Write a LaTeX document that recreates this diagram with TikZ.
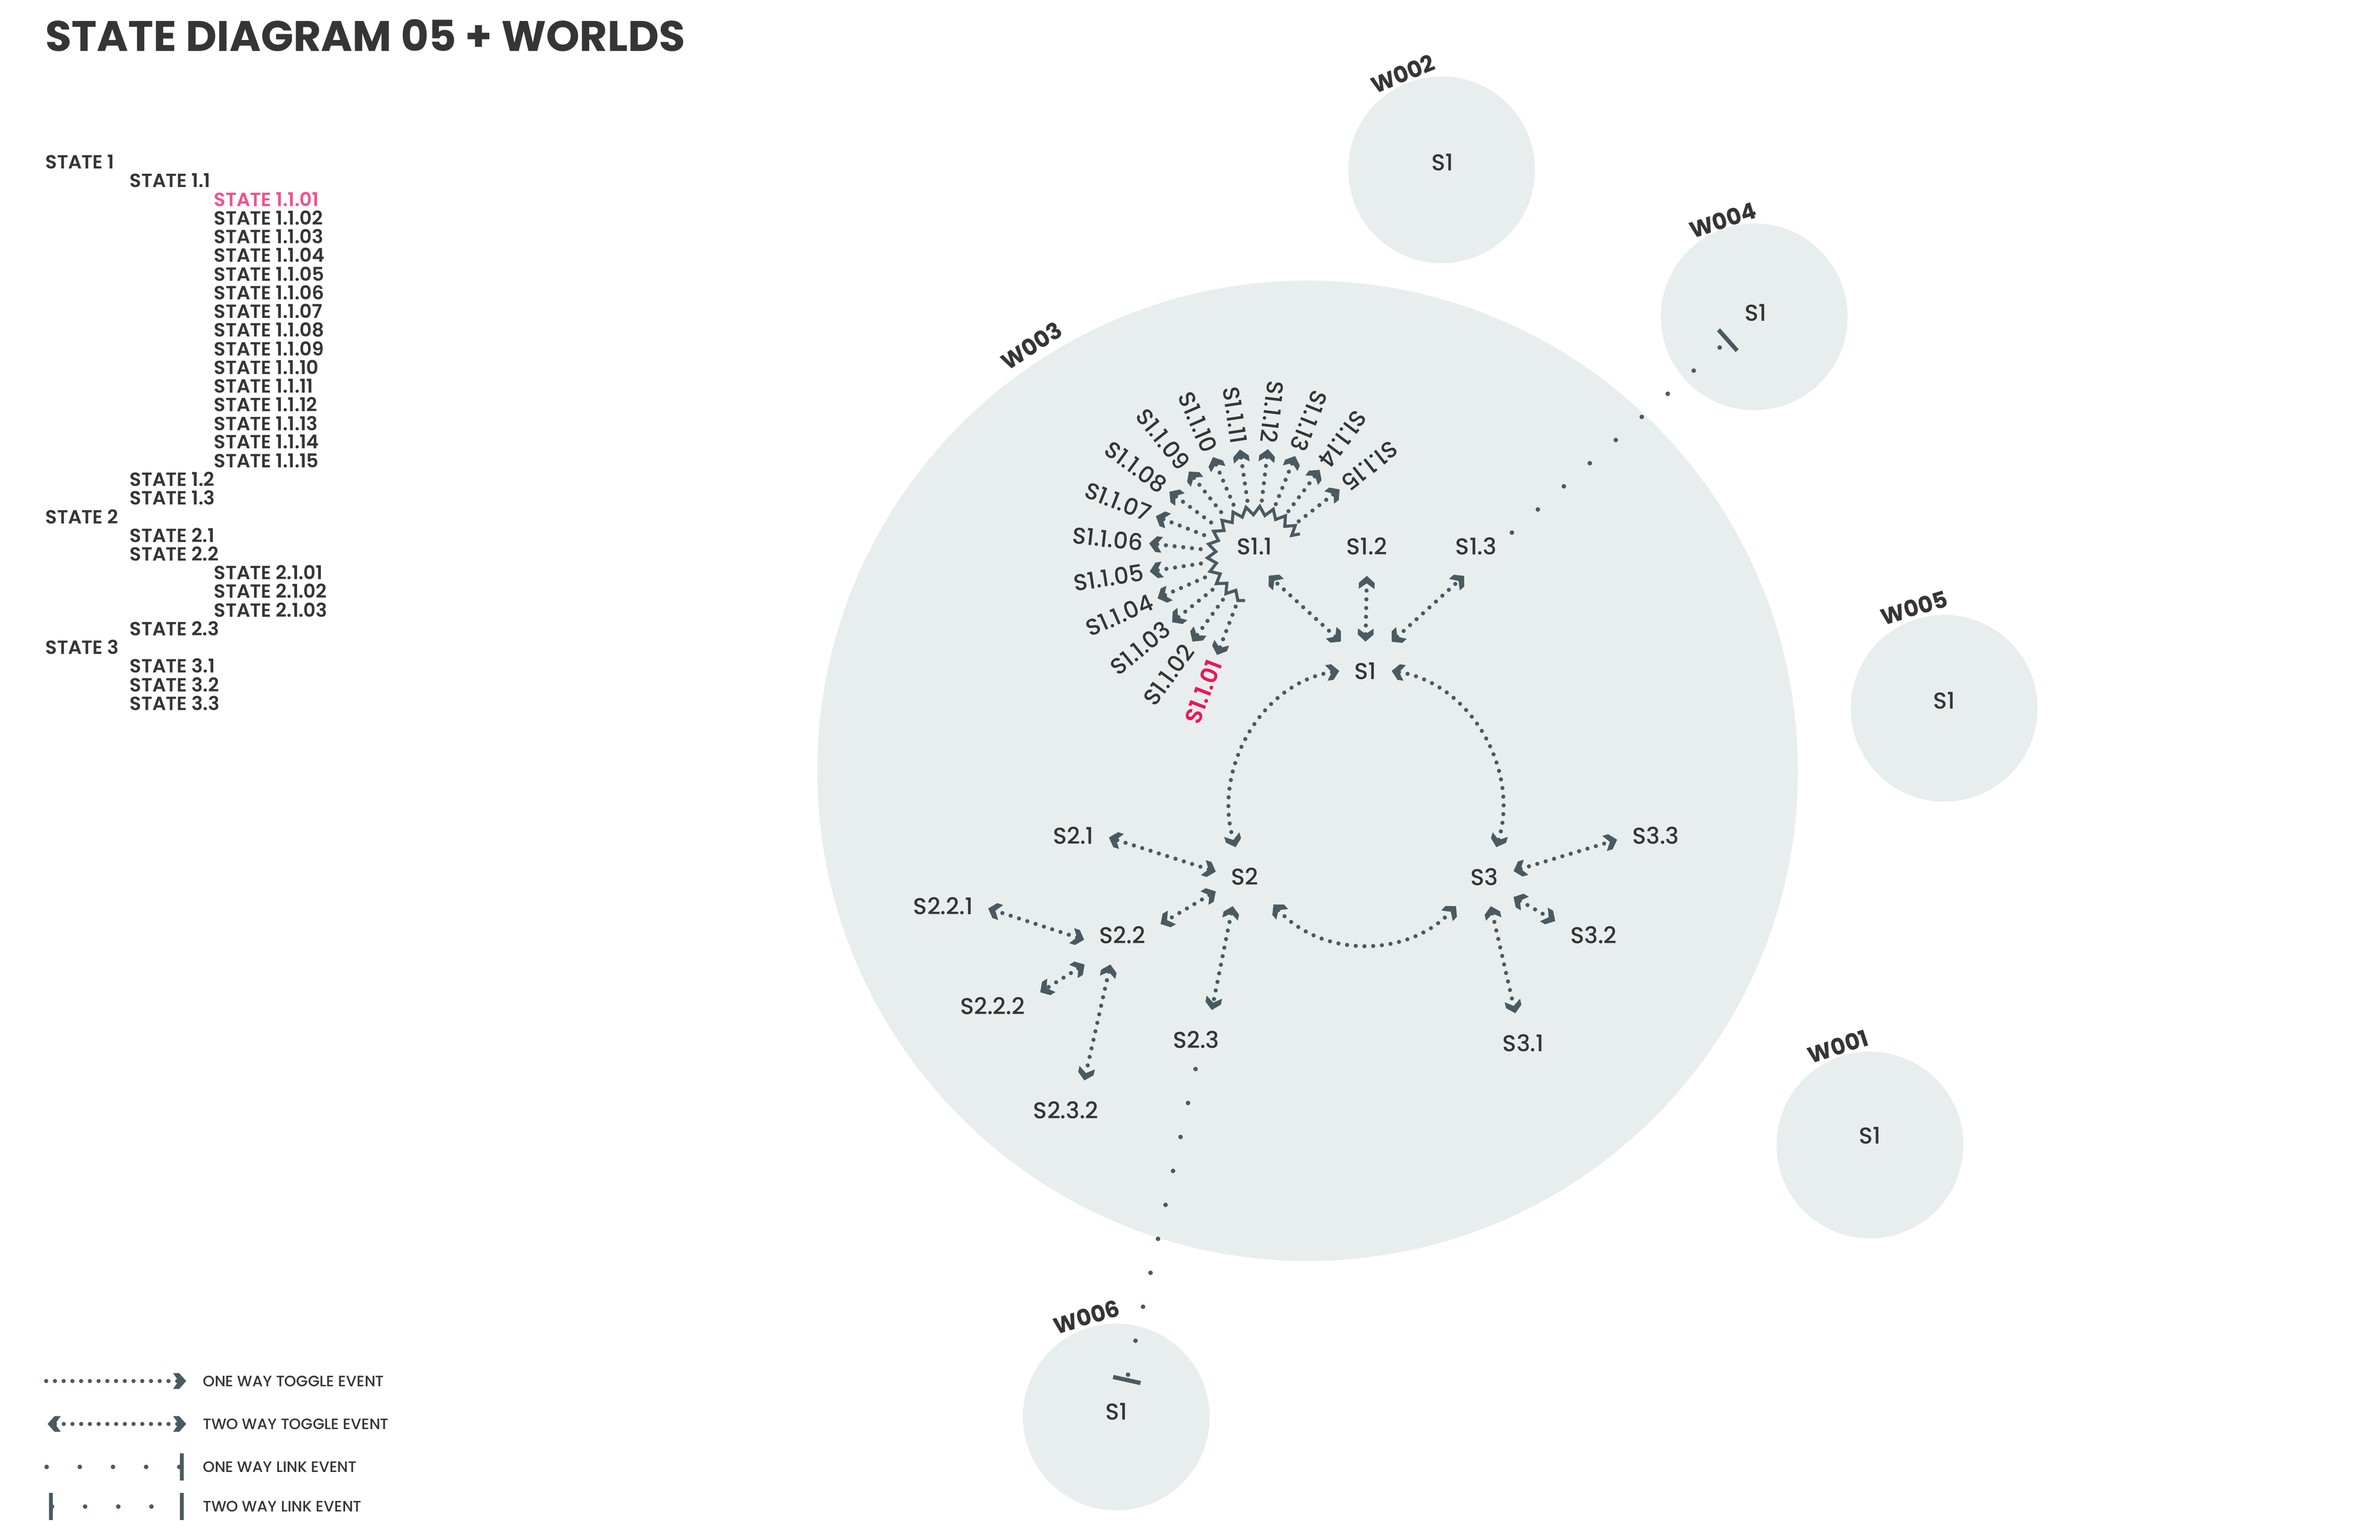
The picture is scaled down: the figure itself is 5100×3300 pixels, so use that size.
\documentclass[tikz,border=0pt]{standalone}
\usepackage{fontspec}
\setmainfont{Poppins}
\IfFontExistsTF{Poppins Medium}{\newfontfamily\medf{Poppins Medium}}{\newfontfamily\medf{Poppins}}
\IfFontExistsTF{Poppins SemiBold}{\newfontfamily\semf{Poppins SemiBold}}{\newfontfamily\semf{Poppins}[UprightFont=*,UprightFeatures={FakeBold=1}]}
\usetikzlibrary{arrows.meta,calc}

\definecolor{textc}{HTML}{353535}
\definecolor{arrowc}{HTML}{4A5A61}
\definecolor{circc}{HTML}{E8EEED}
\definecolor{pinkl}{HTML}{F2508E}
\definecolor{pinkd}{HTML}{EE1558}

\newcommand\ftitle{\fontsize{26pt}{30pt}\selectfont\bfseries}
\newcommand\flist{\fontsize{11.6pt}{13pt}\selectfont\semf}
\newcommand\flbl{\fontsize{14pt}{16pt}\selectfont\medf}
\newcommand\fleg{\fontsize{9.2pt}{11pt}\selectfont\medf}
\newcommand\fwl{\fontsize{13.8pt}{16pt}\selectfont\bfseries}

\pgfdeclarearrow{
  name=Chev,
  setup code={
    \pgfarrowssettipend{0pt}
    \pgfarrowssetlineend{-4.5pt}
    \pgfarrowssetbackend{-8pt}
    \pgfarrowshullpoint{0pt}{0pt}
    \pgfarrowsupperhullpoint{-8pt}{4.8pt}
  },
  drawing code={
    \pgfpathmoveto{\pgfpointorigin}
    \pgfpathlineto{\pgfpoint{-4.3pt}{4.8pt}}
    \pgfpathlineto{\pgfpoint{-8pt}{4.8pt}}
    \pgfpathlineto{\pgfpoint{-4.6pt}{0pt}}
    \pgfpathlineto{\pgfpoint{-8pt}{-4.8pt}}
    \pgfpathlineto{\pgfpoint{-4.3pt}{-4.8pt}}
    \pgfpathclose
    \pgfusepathqfill
  }
}

\tikzset{
  tog/.style={color=arrowc, line width=0.09cm, line cap=round, dash pattern=on 0pt off 0.187cm},
  oneway/.style={tog, -Chev},
  twoway/.style={tog, Chev-Chev},
  lnk/.style={color=arrowc, line width=0.098cm, line cap=round, dash pattern=on 0pt off 0.745cm, -{Bar[width=0.6cm,line width=0.09cm]}},
  st/.style={rectangle, inner xsep=0.32cm, inner ysep=0.44cm, text=textc, font=\flbl},
  sublab/.style={rectangle, inner xsep=0.13cm, inner ysep=0pt, text=textc, font=\flbl, anchor=east},
  world/.style={circle, fill=circc, draw=none, minimum size=4cm, inner sep=0pt},
  wlab/.style={text=textc, font=\fwl, inner sep=0pt},
  listtxt/.style={anchor=west, inner sep=0pt, font=\flist},
  legtxt/.style={anchor=west, inner sep=0pt, text=textc, font=\fleg},
}

\begin{document}
\begin{tikzpicture}[x=0.01cm,y=0.01cm]
\path[use as bounding box, fill=white] (0,0) rectangle (5100,-3300);

% worlds
\node[world, minimum size=21cm] (w3) at (2802,-1652) {};
\node[world] (w2) at (3089,-364) {};
\node[world] (w4) at (3759,-679) {};
\node[world] (w5) at (4166,-1518) {};
\node[world] (w1) at (4007,-2454) {};
\node[world] (w6) at (2392,-3037) {};

% world labels
\node[wlab, rotate=33] (t3) at ($(w3.center)+(123:1086)$) {W003};
\node[wlab, rotate=22] (t2) at ($(w2.center)+(112:222)$) {W002};
\node[wlab, rotate=18] (t4) at ($(w4.center)+(108:218)$) {W004};
\node[wlab, rotate=16.6] (t5) at ($(w5.center)+(106.6:225)$) {W005};
\node[wlab, rotate=18] (t1) at ($(w1.center)+(108:222)$) {W001};
\node[wlab, rotate=16.5] (t6) at ($(w6.center)+(106.5:224)$) {W006};

% title
\node[anchor=base west, inner sep=0pt, text=textc, font=\ftitle] (title) at (97,-110) {STATE DIAGRAM 05 + WORLDS};

% list
\foreach \txt/\lev/\col [count=\k from 0] in {
  STATE 1/0/textc, STATE 1.1/1/textc, STATE 1.1.01/2/pinkl, STATE 1.1.02/2/textc,
  STATE 1.1.03/2/textc, STATE 1.1.04/2/textc, STATE 1.1.05/2/textc, STATE 1.1.06/2/textc,
  STATE 1.1.07/2/textc, STATE 1.1.08/2/textc, STATE 1.1.09/2/textc, STATE 1.1.10/2/textc,
  STATE 1.1.11/2/textc, STATE 1.1.12/2/textc, STATE 1.1.13/2/textc, STATE 1.1.14/2/textc,
  STATE 1.1.15/2/textc, STATE 1.2/1/textc, STATE 1.3/1/textc, STATE 2/0/textc,
  STATE 2.1/1/textc, STATE 2.2/1/textc, STATE 2.1.01/2/textc, STATE 2.1.02/2/textc,
  STATE 2.1.03/2/textc, STATE 2.3/1/textc, STATE 3/0/textc, STATE 3.1/1/textc,
  STATE 3.2/1/textc, STATE 3.3/1/textc}
  \node[listtxt, text=\col] (l\k) at ({97+180.5*\lev},{-347-40*\k}) {\txt};

% main states
\node[st] (S1) at (2926,-1438) {S1};
\node[st] (S11) at (2688,-1171) {S1.1};
\node[st] (S12) at (2929,-1171) {S1.2};
\node[st] (S13) at (3163,-1171) {S1.3};
\node[st] (S2) at (2667,-1879) {S2};
\node[st] (S3) at (3181,-1879) {S3};
\node[st] (S21) at (2300,-1791) {S2.1};
\node[st] (S22) at (2405,-2004) {S2.2};
\node[st] (S221) at (2021,-1942) {S2.2.1};
\node[st] (S222) at (2127,-2156) {S2.2.2};
\node[st] (S23) at (2563,-2228) {S2.3};
\node[st] (S232) at (2284,-2379) {S2.3.2};
\node[st] (S33) at (3548,-1791) {S3.3};
\node[st] (S32) at (3415,-2004) {S3.2};
\node[st] (S31) at (3264,-2235) {S3.1};

% S1 inside small worlds
\node[st] (w2s1) at (3091,-348) {S1};
\node[st] (w4s1) at (3762,-670) {S1};
\node[st] (w5s1) at (4166,-1502) {S1};
\node[st] (w1s1) at (4007,-2434) {S1};
\node[st] (w6s1) at (2392,-3025) {S1};

% zigzag around S1.1
\coordinate (Z) at (2692,-1190);
\draw[arrowc, line width=0.065cm, line join=miter]
  ($(Z)+(256:100)$)
  \foreach \j in {1,...,28} { -- ($(Z)+({256-8.1*\j}:{96+18*mod(\j,2)-9})$) }
  -- ($(Z)+(26:104)$);

% S1.1 sub states
\coordinate (C) at (2690,-1190);
\foreach \k/\lab/\col in {1/01/pinkd,2/02/textc,3/03/textc,4/04/textc,5/05/textc,
   6/06/textc,7/07/textc,8/08/textc,9/09/textc,10/10/textc,11/11/textc,12/12/textc,
   13/13/textc,14/14/textc,15/15/textc}{
  \pgfmathsetmacro\ang{249-15.07*(\k-1)}
  \pgfmathsetmacro\rot{\ang+180}
  \coordinate (c\lab) at ($(C)+(\ang:118)$);
  \node[sublab, rotate=\rot, text=\col] (L\lab) at ($(C)+(\ang:229)$) {\ifnum\k=1\semf\fi S1.1.\lab};
  \draw[oneway] (c\lab) -- (L\lab);
}

% S1 connectors
\draw[twoway] (S1.130) -- (S11.-64);
\draw[twoway] (S1.north) -- (S12.south);
\draw[twoway] (S1.48) -- (S13.248);

% ring S1 - S2 - S3
\draw[twoway] (S1.west) to[out=189, in=107] (S2.107);
\draw[twoway] (S1.east) to[out=-9, in=73] (S3.68);
\draw[twoway] (S2.-44) to[out=-48, in=227] (S3.226);

% S2 cluster
\draw[twoway] (S2.170) -- (S21.-3);
\draw[twoway] (S2.207) -- (S22.16);
\draw[twoway] (S2.248) -- (S23.62);
\draw[twoway] (S22.187) -- (S221.-3);
\draw[twoway] (S22.218) -- (S222.16);
\draw[twoway] (S22.248) -- (S232.58);

% S3 cluster
\draw[twoway] (S3.11) -- (S33.186);
\draw[twoway] (S3.-35) -- (S32.160);
\draw[twoway] (S3.-78) -- (S31.105);

% links to other worlds
\draw[lnk] (S13.21) -- (w4s1.225);
\draw[lnk] (S23.269) -- (w6s1.71);

% legend
\coordinate (la1) at (99,-2960);  \coordinate (lb1) at (399,-2960);
\coordinate (la2) at (102,-3052); \coordinate (lb2) at (399,-3052);
\coordinate (la3) at (100,-3144); \coordinate (lb3) at (394,-3144);
\coordinate (la4) at (105,-3229); \coordinate (lb4) at (394,-3229);
\draw[oneway] (la1) -- (lb1);
\draw[twoway] (la2) -- (lb2);
\draw[lnk, dash pattern=on 0pt off 0.71cm, -{Bar[width=0.58cm,line width=0.085cm]}] (la3) -- (lb3);
\draw[lnk, dash pattern=on 0pt off 0.71cm, {Bar[width=0.58cm,line width=0.085cm]}-{Bar[width=0.58cm,line width=0.085cm]}] (la4) -- (lb4);
\node[legtxt] (g1) at (434,-2960) {ONE WAY TOGGLE EVENT};
\node[legtxt] (g2) at (434,-3052) {TWO WAY TOGGLE EVENT};
\node[legtxt] (g3) at (434,-3144) {ONE WAY LINK EVENT};
\node[legtxt] (g4) at (434,-3229) {TWO WAY LINK EVENT};
\end{tikzpicture}
\end{document}
